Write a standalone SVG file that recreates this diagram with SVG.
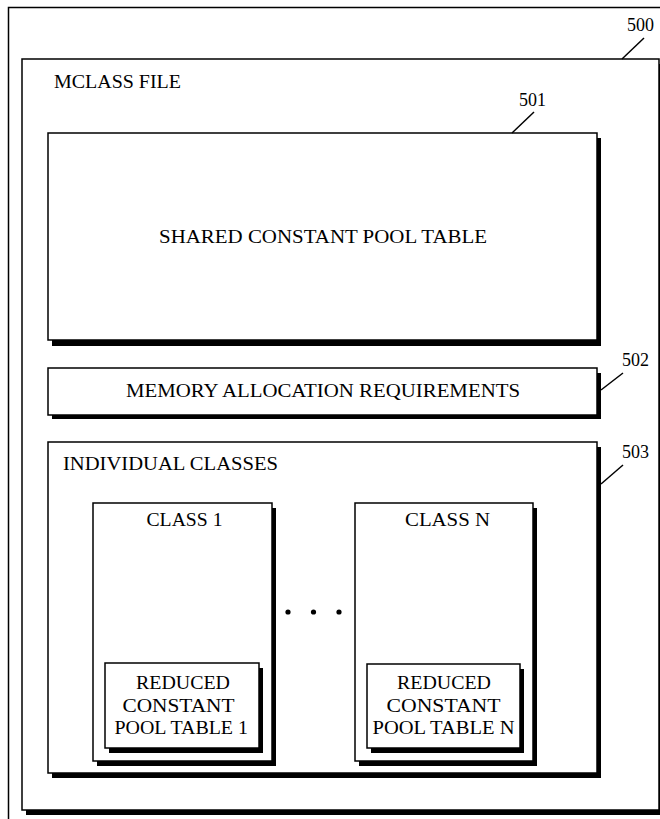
<svg xmlns="http://www.w3.org/2000/svg" width="660" height="819" viewBox="0 0 660 819">
<style>
.sh{fill:#000}
.bx{fill:#fff;stroke:#000;stroke-width:1.5}
.t{font-family:"Liberation Serif","Times New Roman",serif;font-size:19px;fill:#000}
.n{font-family:"Liberation Serif","Times New Roman",serif;font-size:18px;fill:#000}
.ld{stroke:#000;stroke-width:1.5;fill:none}
</style>
<rect x="8.5" y="7.5" width="700" height="850" fill="#fff" stroke="#000" stroke-width="1.5"/>
<g id="n500">
<rect class="sh" x="26" y="64" width="637" height="751"/>
<rect class="bx" x="22" y="59" width="637" height="751"/>
<text class="t" x="54" y="88" textLength="127" lengthAdjust="spacingAndGlyphs">MCLASS FILE</text>
<text class="n" x="627" y="31">500</text>
</g>
<g id="n501">
<rect class="sh" x="52" y="138" width="549" height="208"/>
<rect class="bx" x="48" y="133" width="549" height="207"/>
<text class="t" x="159" y="243" textLength="328" lengthAdjust="spacingAndGlyphs">SHARED CONSTANT POOL TABLE</text>
<text class="n" x="519" y="106">501</text>
</g>
<g id="n502">
<rect class="sh" x="52" y="373" width="549" height="46"/>
<rect class="bx" x="48" y="368" width="549" height="47"/>
<text class="t" x="126" y="397" textLength="394" lengthAdjust="spacingAndGlyphs">MEMORY ALLOCATION REQUIREMENTS</text>
<text class="n" x="622" y="366">502</text>
</g>
<g id="n503">
<rect class="sh" x="52" y="447" width="549" height="331"/>
<rect class="bx" x="48" y="442" width="549" height="331"/>
<text class="t" x="63" y="470" textLength="215" lengthAdjust="spacingAndGlyphs">INDIVIDUAL CLASSES</text>
<text class="n" x="622" y="458">503</text>
</g>
<g id="class1">
<rect class="sh" x="97" y="508" width="179" height="258"/>
<rect class="bx" x="93" y="503" width="179" height="258"/>
<text class="t" x="146.5" y="526" textLength="76" lengthAdjust="spacingAndGlyphs">CLASS 1</text>
</g>
<g id="rcpt1">
<rect class="sh" x="109" y="668" width="154" height="85"/>
<rect class="bx" x="105" y="663" width="154" height="85"/>
<text class="t" x="136" y="689" textLength="94" lengthAdjust="spacingAndGlyphs">REDUCED</text>
<text class="t" x="122.5" y="712" textLength="112" lengthAdjust="spacingAndGlyphs">CONSTANT</text>
<text class="t" x="114.5" y="734" textLength="133.5" lengthAdjust="spacingAndGlyphs">POOL TABLE 1</text>
</g>
<g id="classN">
<rect class="sh" x="359" y="508" width="178" height="258"/>
<rect class="bx" x="355" y="503" width="178" height="258"/>
<text class="t" x="405" y="526" textLength="85" lengthAdjust="spacingAndGlyphs">CLASS N</text>
</g>
<g id="rcptN">
<rect class="sh" x="371" y="669" width="153" height="84"/>
<rect class="bx" x="367" y="664" width="153" height="84"/>
<text class="t" x="397" y="689" textLength="94" lengthAdjust="spacingAndGlyphs">REDUCED</text>
<text class="t" x="386.5" y="712" textLength="114" lengthAdjust="spacingAndGlyphs">CONSTANT</text>
<text class="t" x="372.5" y="734" textLength="142" lengthAdjust="spacingAndGlyphs">POOL TABLE N</text>
</g>
<g id="dots">
<circle cx="288" cy="612" r="2.6"/>
<circle cx="313.5" cy="612" r="2.6"/>
<circle cx="339" cy="612" r="2.6"/>
</g>
<g id="connectors">
<line class="ld" x1="644" y1="38" x2="622" y2="59"/>
<line class="ld" x1="534" y1="112" x2="512" y2="133"/>
<line class="ld" x1="623" y1="373" x2="601" y2="390"/>
<line class="ld" x1="623" y1="465" x2="601" y2="484"/>
</g>
</svg>
